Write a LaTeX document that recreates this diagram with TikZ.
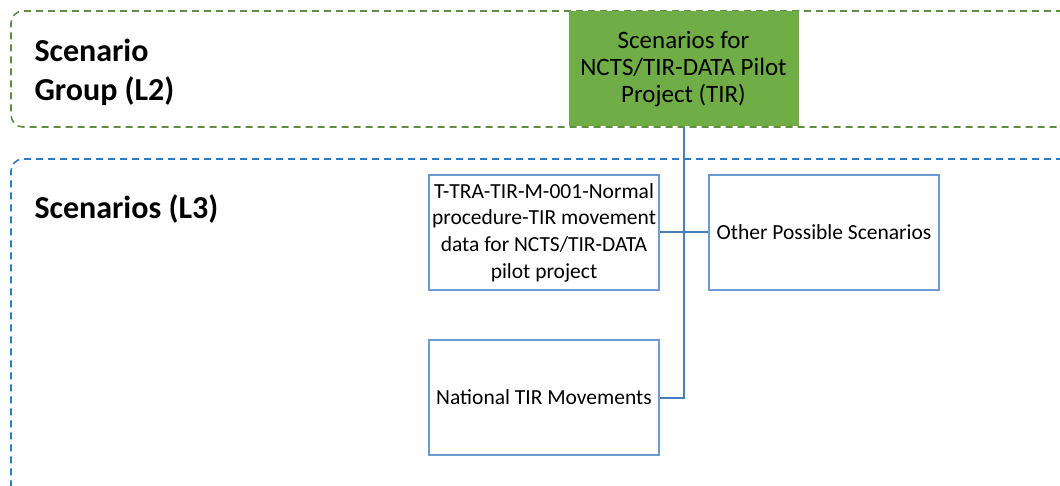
\documentclass[tikz,border=0pt]{standalone}
\usepackage{fontspec}
\setmainfont{Carlito}
\usetikzlibrary{positioning}

\definecolor{grpgreen}{HTML}{70AD47}
\definecolor{dashgreen}{HTML}{5E8E3E}
\definecolor{dashblue}{HTML}{2E7BC4}
\definecolor{boxblue}{HTML}{6B9BD1}
\definecolor{linkblue}{HTML}{4A7EBB}

\tikzset{
  lanebox/.style={line width=1.6pt, dash pattern=on 7pt off 5pt, rounded corners=12pt},
  scenbox/.style={draw=boxblue, line width=2pt, minimum width=230pt, minimum height=115pt,
    inner sep=0pt, align=center, font=\fontsize{21.5}{26.6}\selectfont},
  lanelabel/.style={anchor=west, align=left, font=\fontsize{32}{39}\selectfont\bfseries},
  link/.style={draw=linkblue, line width=2pt}
}

\begin{document}
\begin{tikzpicture}[x=1pt, y=-1pt]
    % 画布大小
    \useasboundingbox (0,0) rectangle (1060,486);

    % 两个分组的虚线框（右侧超出画布）
    \draw[lanebox, dashgreen] (1075,11) -- (11,11) -- (11,127) -- (1075,127);
    \draw[lanebox, dashblue] (1075,159) -- (11,159) -- (11,510);

    % 左侧分组标签
    \node[lanelabel] (lblgrp) at (31,72) {Scenario\\Group (L2)};
    \node[lanelabel] (lblscn) at (31,209) {Scenarios (L3)};

    % 场景组
    \node[scenbox, draw=none, fill=grpgreen, font=\fontsize{25}{26.6}\selectfont] (grp) at (683.5,69)
      {Scenarios for\\NCTS/TIR-DATA Pilot\\Project (TIR)};

    % 场景
    \node[scenbox] (m001) at (544,232.5) {T-TRA-TIR-M-001-Normal\\procedure-TIR movement\\data for NCTS/TIR-DATA\\pilot project};
    \node[scenbox, right=48pt of m001] (other) {Other Possible Scenarios};
    \node[scenbox, below=48pt of m001] (natl) {National TIR Movements};

    % 连线
    \draw[link] (grp.south) -- (grp.south |- natl.east) -- (natl.east);
    \draw[link] (m001.east) -- (other.west);

  \end{tikzpicture}
\end{document}
